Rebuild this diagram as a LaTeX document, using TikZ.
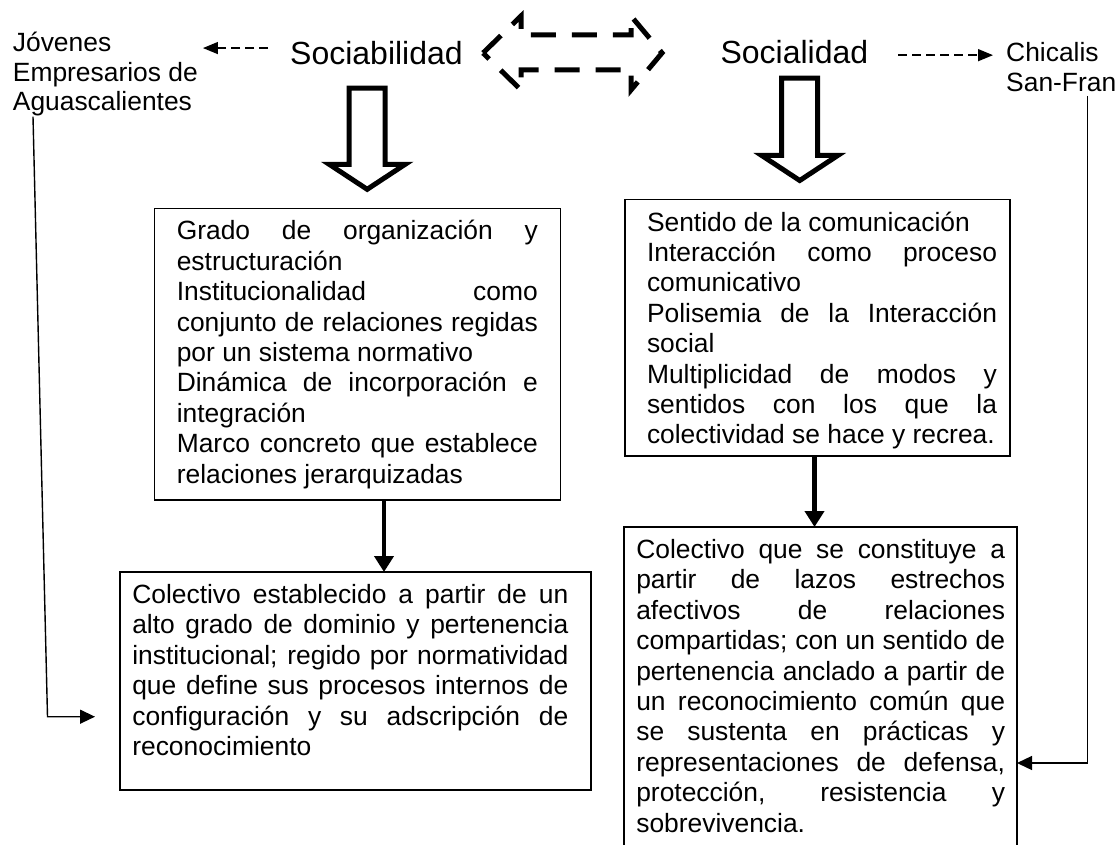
\documentclass[tikz,border=0pt]{standalone}
\usepackage{fontspec}
\setmainfont{Liberation Sans}
\usetikzlibrary{arrows.meta}
\usetikzlibrary{positioning,calc}
\newcommand{\bodyfont}{\fontsize{26.4pt}{30.4pt}\selectfont}
\newcommand{\headfont}{\fontsize{32pt}{38pt}\selectfont}
\newcommand{\sidefont}{\fontsize{26.4pt}{29.5pt}\selectfont}
% left and right padding inside a box
\newcommand{\pad}[2]{\leftskip=#1pt\rightskip=#2pt\relax}
% hollow down arrow from a heading to a box
\newcommand{\hollowdown}[3]{%
  \draw[hollow] let \p1 = ($(#1.south)+(#3)$), \p2 = (#2.north) in
    (\x1-18pt,\y1) -- (\x1+18pt,\y1) -- (\x1+18pt,\y2+44pt) -- (\x1+38pt,\y2+44pt)
    -- (\x1,\y2+19pt) -- (\x1-38pt,\y2+44pt) -- (\x1-18pt,\y2+44pt) -- cycle;}
\tikzset{
    textbox/.style={
        draw,
        line width=1.6pt,
        inner sep=0pt,
        outer sep=0pt,
        anchor=north west,
        align=justify,
        text height=31.5pt,
        font=\bodyfont
    },
    heading/.style={
        inner sep=0pt,
        anchor=base west,
        font=\headfont
    },
    sidelabel/.style={
        inner sep=0pt,
        anchor=north west,
        align=left,
        font=\sidefont
    }
}

\begin{document}
\hyphenpenalty=10000
\exhyphenpenalty=10000
\tolerance=10000
\begin{tikzpicture}[
    x = 1pt,
    y = -1pt,
    thinlink/.style = {line width=1.4pt, -{Triangle[length=15pt, width=14pt]}},
    dashlink/.style = {line width=1.4pt, dash pattern=on 9pt off 5pt, -{Triangle[length=15pt, width=12pt]}},
    thicklink/.style = {line width=4.5pt, -{Triangle[length=16pt, width=19pt]}},
    hollow/.style = {draw, line width=5pt, fill=white, line join=miter},
    dashblock/.style = {draw, line width=5pt, dash pattern=on 25pt off 16pt, line join=miter}
]
\path[use as bounding box, fill=white] (0,0) rectangle (1118,845);
\clip (0,0) rectangle (1118,845);

% Headings and side labels
\node[heading] (sociab) at (290,65) {Sociabilidad};
\node[heading] (social) at (720.4,64) {Socialidad};
\node[sidelabel] (jovenes) at (12.7,32.3) {Jóvenes\\Empresarios de\\Aguascalientes};
\node[sidelabel] (chicalis) at (1006,42.5) {Chicalis\\San-Fran};

% Boxes
\node[textbox, text width=406pt, text depth=260pt] (grado) at (154.3,208.3) {\pad{22.5}{22.5}Grado de organización y\linebreak estructuración\par
Institucionalidad como\linebreak conjunto de relaciones regidas\linebreak por un sistema normativo\par
Dinámica de incorporación e\linebreak integración\par
Marco concreto que establece\linebreak relaciones jerarquizadas\par};
\node[textbox, text width=471pt, text depth=186.5pt] (colestab) at (120,572) {\pad{12.3}{22.7}Colectivo establecido a partir de un\linebreak alto grado de dominio y pertenencia\linebreak institucional; regido por normatividad\linebreak que define sus procesos internos de\linebreak configuración y su adscripción de\linebreak reconocimiento\par};
\node[textbox, text width=385pt, text depth=225pt] (sentido) at (625,199.5) {\pad{22}{13}Sentido de la comunicación\par
Interacción como proceso\linebreak comunicativo\par
Polisemia de la Interacción\linebreak social\par
Multiplicidad de modos y\linebreak sentidos con los que la\linebreak colectividad se hace y recrea.\par};
\node[textbox, text width=393.3pt, text depth=321.5pt] (lazos) at (623.7,527) {\pad{12.6}{12}Colectivo que se constituye a\linebreak partir de lazos estrechos\linebreak afectivos de relaciones\linebreak compartidas; con un sentido de\linebreak pertenencia anclado a partir de\linebreak un reconocimiento común que\linebreak se sustenta en prácticas y\linebreak representaciones de defensa,\linebreak protección, resistencia y\linebreak sobrevivencia.\par};

% Double dashed arrow between the headings
\draw[dashblock] (483,53) -- (521,16) -- (521,35) -- (631,35) -- (631,16) -- (662,53)
    -- (631,90) -- (631,70) -- (521,70) -- (521,90) -- cycle;

% Hollow arrows
\hollowdown{sociab}{grado}{-9.3,22.5}
\hollowdown{social}{sentido}{5.3,13.5}

% Arrows between boxes
\coordinate (gs) at ([xshift=26.7pt]grado.south);
\draw[thicklink] (gs) -- (gs |- colestab.north);
\coordinate (ss) at ([xshift=-3pt]sentido.south);
\draw[thicklink] (ss) -- (ss |- lazos.north);

% Dashed arrows to the side labels
\coordinate (jl) at ([xshift=-22pt,yshift=5.5pt]sociab.west);
\draw[dashlink, shorten >=5pt] (jl) -- (jl -| jovenes.east);
\coordinate (cr) at ([xshift=30pt,yshift=-2.6pt]social.east);
\draw[dashlink, shorten >=13pt] (cr) -- (cr -| chicalis.west);

% Side labels down to the lower boxes
\coordinate (lb) at (47.5,716.7);
\draw[thinlink, shorten >=25pt] ([xshift=20.3pt]jovenes.south west) -- (lb) -- (lb -| colestab.west);
\coordinate (rb) at (1087.5,763);
\draw[thinlink, shorten <=4pt] (chicalis.south -| rb) -- (rb) -- (rb -| lazos.east);

\end{tikzpicture}
\end{document}
